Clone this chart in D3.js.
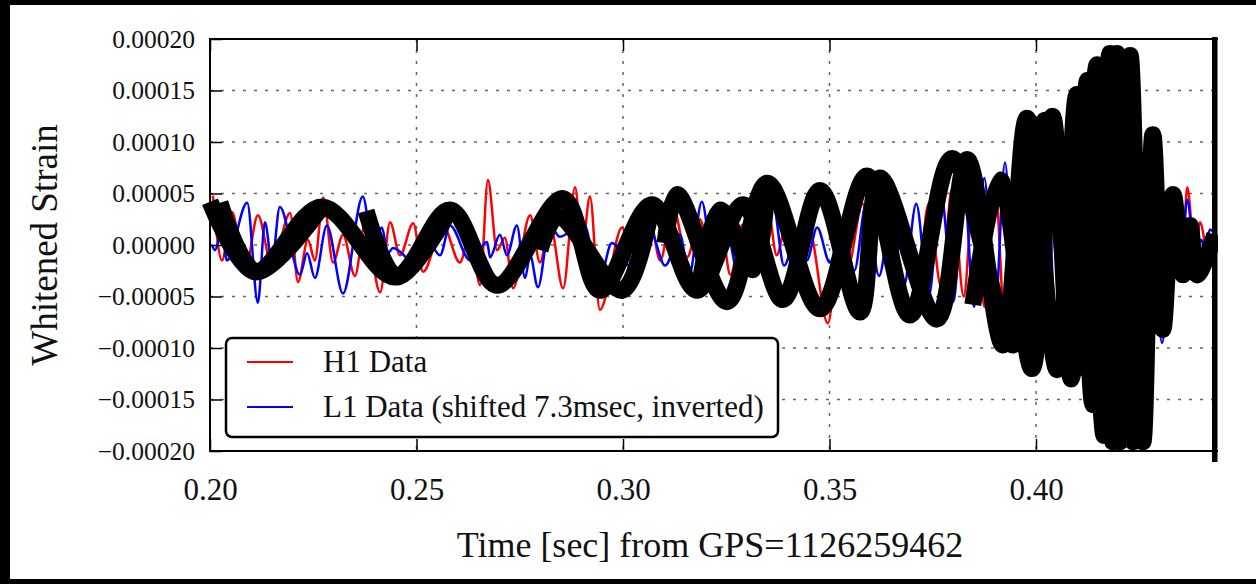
<!DOCTYPE html>
<html>
<head>
<meta charset="utf-8">
<script src="https://cdn.jsdelivr.net/npm/d3@7"></script>
<style>
html, body { margin: 0; padding: 0; background: #000; }
svg { display: block; }
text { font-family: "Liberation Serif", "Times New Roman", serif; fill: #111; }
</style>
</head>
<body>
<div id="chart"></div>
<script>
// strain values below are in units of 1e-5
var unit = 1e-5;

// H1 (red) - [time, strain]
var h1Data = [[0.2007,4.8],[0.2029,-1.5],[0.2053,3.2],[0.2085,-2.5],[0.2116,2.9],[0.2150,-2.0],[0.2194,3.1],[0.2213,-3.6],
  [0.2237,0.5],[0.2254,-1.5],[0.2274,4.6],[0.2298,-1.7],[0.2322,1.0],[0.2351,-3.0],[0.2375,2.0],[0.2412,-4.6],[0.2436,2.2],
  [0.2460,-1.0],[0.2492,2.1],[0.2516,-2.6],[0.2564,1.9],[0.2605,-1.7],[0.2630,1.2],[0.2654,-3.9],[0.2673,6.3],[0.2695,-0.5],
  [0.2714,0.7],[0.2734,-4.2],[0.2775,2.9],[0.2799,-1.7],[0.2823,2.2],[0.2855,-4.2],[0.2884,5.6],[0.2901,-0.3],[0.2920,4.7],
  [0.2944,-6.3],[0.2998,1.7],[0.3022,-2.0],[0.3065,2.5],[0.3090,-1.5],[0.3121,3.7],[0.3155,-1.2],[0.3186,2.5],[0.3215,-1.8],
  [0.3238,1.5],[0.3260,-2.9],[0.3290,2.0],[0.3320,-2.0],[0.3351,3.5],[0.3372,-1.0],[0.3395,2.0],[0.3420,-3.0],[0.3450,1.5],
  [0.3496,-7.6],[0.3525,0.5],[0.3545,-2.0],[0.3580,4.0],[0.3600,1.0],[0.3622,4.5],[0.3650,-4.0],[0.3680,3.0],[0.3710,-5.0],
  [0.3740,4.0],[0.3770,-4.0],[0.3797,5.5],[0.3825,-5.0],[0.3850,6.0],[0.3875,-6.0],[0.3900,6.5],[0.3925,-7.5],[0.3950,8.0],
  [0.3975,-9.0],[0.4000,10.0],[0.4025,-10.0],[0.4050,11.0],[0.4075,-11.0],[0.4100,12.0],[0.4120,-12.0],[0.4140,12.0],
  [0.4160,-12.0],[0.4180,10.0],[0.4200,-10.0],[0.4220,8.0],[0.4240,-8.0],[0.4260,5.0],[0.4280,-4.0],[0.4300,2.0],
  [0.4322,-6.5],[0.4345,1.0],[0.4355,-1.5],[0.4366,5.6],[0.4385,-1.0],[0.4397,2.2],[0.4421,-2.1],[0.4440,1.0]];

// L1 (blue) - [time, strain]
var l1Data = [[0.2005,0.0],[0.2012,-0.5],[0.2029,1.5],[0.2041,-1.5],[0.2090,4.1],[0.2116,-5.6],[0.2133,2.2],[0.2150,-1.7],
  [0.2169,3.7],[0.2218,-2.9],[0.2235,-0.8],[0.2254,-3.2],[0.2283,1.9],[0.2322,-4.7],[0.2370,4.7],[0.2395,-0.3],[0.2416,1.7],
  [0.2431,-0.8],[0.2443,-0.3],[0.2501,-1.9],[0.2533,0.0],[0.2557,-1.0],[0.2581,1.9],[0.2630,-1.5],[0.2671,0.3],[0.2678,-1.2],
  [0.2702,1.0],[0.2719,-1.0],[0.2743,1.9],[0.2763,-3.2],[0.2775,-1.0],[0.2794,-4.1],[0.2823,1.9],[0.2847,0.8],[0.2903,2.2],
  [0.2944,-3.2],[0.2973,0.2],[0.3024,-2.3],[0.3065,1.5],[0.3102,-2.0],[0.3138,1.0],[0.3160,-3.0],[0.3191,4.2],[0.3220,-2.5],
  [0.3250,1.5],[0.3280,-3.0],[0.3310,2.0],[0.3340,-2.5],[0.3363,4.0],[0.3390,-2.0],[0.3420,1.0],[0.3445,-1.5],[0.3470,1.7],
  [0.3501,-1.7],[0.3530,2.0],[0.3560,-2.5],[0.3589,4.1],[0.3620,-3.0],[0.3650,3.0],[0.3680,-4.0],[0.3710,4.0],[0.3740,-5.0],
  [0.3770,5.0],[0.3800,-5.5],[0.3825,6.0],[0.3850,-6.0],[0.3875,6.5],[0.3900,-7.0],[0.3925,8.0],[0.3950,-8.5],[0.3975,9.0],
  [0.4000,-10.0],[0.4025,10.0],[0.4050,-11.0],[0.4075,11.0],[0.4100,-12.0],[0.4120,12.0],[0.4140,-11.0],[0.4160,11.0],
  [0.4180,-10.0],[0.4200,9.0],[0.4220,-8.0],[0.4240,6.0],[0.4260,-5.0],[0.4280,3.0],[0.4305,-9.5],[0.4330,0.0],[0.4350,-2.0],
  [0.4366,4.4],[0.4385,-1.0],[0.4400,0.5],[0.4410,-0.5],[0.4421,1.5],[0.4440,0.5]];

// thick black overlay, several strokes, points in drawing order
var blackMain = [[0.2000,4.2],[0.2109,-2.6],[0.2271,3.7],[0.2448,-3.1],[0.2581,3.4],[0.2695,-3.9],[0.2855,4.5],[0.2944,-4.4],
  [0.3070,3.9],[0.3179,-4.4],[0.3291,3.9],[0.3387,-5.3],[0.3477,5.3],[0.3574,-6.5],[0.3622,6.5],[0.3760,-7.2],[0.3833,8.3],
  [0.3920,-9.7],[0.3978,12.3],[0.4051,-12.1],[0.4099,14.6],[0.4138,-15.5],[0.4179,18.6],[0.4203,-19.1],[0.4228,18.4],
  [0.4259,-19.1],[0.4283,10.7],[0.4307,-8.2],[0.4332,4.9],[0.4356,-2.9],[0.4373,1.9],[0.4390,-2.9],[0.4433,1.0]];
var blackB = [[0.2024,4.1],[0.2112,-2.6],[0.2271,3.7]];
var blackC = [[0.2378,3.3],[0.2453,-3.1],[0.2581,3.4]];
var blackD = [[0.2799,-0.5],[0.2843,2.8],[0.2998,-4.4],[0.3070,3.9]];
var blackE = [[0.3102,0.2],[0.3131,4.9],[0.3252,-5.5],[0.3349,6.0],[0.3477,-6.2],[0.3591,6.7],[0.3695,-6.8],[0.3797,8.4],
  [0.3944,-9.7],[0.4022,12.1],[0.4099,-12.0],[0.4148,17.5],[0.4186,-19.1],[0.4196,18.6],[0.4235,-19.1],[0.4252,-5.3]];
var blackF = [[0.3186,-3.9],[0.3235,3.4],[0.3315,-2.4],[0.3349,6.0]];
var blackG = [[0.3847,-5.8],[0.3913,6.3],[0.3990,-12.0],[0.4040,12.5],[0.4085,-13.0],[0.4125,16.0],[0.4165,-18.5],
  [0.4212,18.0],[0.4245,-19.0],[0.4262,-10.0]];
var blackTraces = [blackMain, blackB, blackC, blackD, blackE, blackF, blackG];

var xTicks = [0.20, 0.25, 0.30, 0.35, 0.40, 0.45];
var xLabelMax = 0.40;   // last tick label that is not cut off
var yTicks = [-0.0002, -0.00015, -0.0001, -0.00005, 0, 0.00005, 0.0001, 0.00015, 0.0002];
var legendLabels = ["H1 Data", "L1 Data (shifted 7.3msec, inverted)"];
var legendColors = ["#ff0000", "#0000ff"];

var W = 1256, H = 584;
var plot = {left: 210, top: 39, right: 1242.5, bottom: 451, edge: 1215};

var svg = d3.select("#chart").append("svg")
    .attr("width", W)
    .attr("height", H);

// page: black frame round a white sheet
svg.append("rect").attr("width", W).attr("height", H).attr("fill", "#000");
svg.append("rect").attr("x", 10).attr("y", 5).attr("width", W - 10).attr("height", 574).attr("fill", "#fff");

var x = d3.scaleLinear().domain([0.2, 0.45]).range([plot.left, plot.right]);
var y = d3.scaleLinear().domain([-0.0002, 0.0002]).range([plot.bottom, plot.top]);

// grid
var grid = svg.append("g").attr("stroke", "#666").attr("stroke-width", 1.5).attr("stroke-dasharray", "3,8");
grid.selectAll(".vg").data(xTicks.slice(1)).enter().append("line")
    .attr("x1", function(d) { return x(d); }).attr("x2", function(d) { return x(d); })
    .attr("y1", plot.top).attr("y2", plot.bottom);
grid.selectAll(".hg").data(yTicks.slice(1, -1)).enter().append("line")
    .attr("x1", plot.left).attr("x2", plot.right)
    .attr("y1", function(d) { return y(d); }).attr("y2", function(d) { return y(d); });

// data lines
var thin = d3.line()
    .x(function(d) { return x(d[0]); })
    .y(function(d) { return y(d[1] * unit); })
    .curve(d3.curveMonotoneX);

svg.append("path").datum(h1Data)
    .attr("fill", "none").attr("stroke", legendColors[0]).attr("stroke-width", 2.5)
    .attr("d", thin);
svg.append("path").datum(l1Data)
    .attr("fill", "none").attr("stroke", legendColors[1]).attr("stroke-width", 2.5)
    .attr("d", thin);

var thick = d3.line()
    .x(function(d) { return x(d[0]); })
    .y(function(d) { return y(d[1] * unit); })
    .curve(d3.curveCatmullRom.alpha(0.5));

svg.selectAll(".black").data(blackTraces).enter().append("path")
    .attr("fill", "none").attr("stroke", "#000").attr("stroke-width", 17)
    .attr("stroke-linecap", "butt").attr("stroke-linejoin", "round")
    .attr("d", thick);

// spines
svg.append("rect")
    .attr("x", plot.left).attr("y", plot.top)
    .attr("width", plot.right - plot.left).attr("height", plot.bottom - plot.top)
    .attr("fill", "none").attr("stroke", "#000").attr("stroke-width", 2);

// axes (ticks inward)
var xAxis = svg.append("g")
    .attr("transform", "translate(0," + plot.bottom + ")")
    .call(d3.axisBottom(x).tickValues(xTicks).tickSize(-12).tickPadding(27)
      .tickFormat(function(d) { return d > xLabelMax + 1e-9 ? "" : d3.format(".2f")(d); }));
xAxis.selectAll("text").style("font-size", "31px").style("font-family", "Liberation Serif");

svg.append("g")
    .attr("transform", "translate(0," + plot.top + ")")
    .call(d3.axisTop(x).tickValues(xTicks).tickSize(-12).tickFormat(""));

var yAxis = svg.append("g")
    .attr("transform", "translate(" + plot.left + ",0)")
    .call(d3.axisLeft(y).tickValues(yTicks).tickSize(-12).tickPadding(15).tickFormat(d3.format(".5f")));
yAxis.selectAll("text").style("font-size", "25.5px").style("font-family", "Liberation Serif");

svg.selectAll(".domain").remove();
svg.selectAll(".tick line").attr("stroke", "#000").attr("stroke-width", 1.5);

// legend
var legend = svg.append("g");
legend.append("rect")
    .attr("x", 226).attr("y", 338).attr("width", 552).attr("height", 99).attr("rx", 6)
    .attr("fill", "#fff").attr("stroke", "#000").attr("stroke-width", 2.5);
legendLabels.forEach(function(label, i) {
  var ly = 362 + i * 45;
  legend.append("line")
      .attr("x1", 247).attr("x2", 293).attr("y1", ly).attr("y2", ly)
      .attr("stroke", legendColors[i]).attr("stroke-width", 2.2);
  legend.append("text")
      .attr("x", 323).attr("y", ly + 10)
      .style("font-size", "31px")
      .text(label);
});

// axis labels
svg.append("text")
    .attr("x", 710).attr("y", 557)
    .attr("text-anchor", "middle")
    .style("font-size", "36px")
    .text("Time [sec] from GPS=1126259462");

svg.append("text")
    .attr("transform", "translate(57,245) rotate(-90)")
    .attr("text-anchor", "middle")
    .style("font-size", "37px")
    .text("Whitened Strain");

// the picture is cut off just past 0.44
svg.append("rect").attr("x", plot.edge + 3).attr("y", 5).attr("width", W - plot.edge - 3).attr("height", 574).attr("fill", "#fff");
svg.append("rect").attr("x", plot.edge - 3).attr("y", plot.top - 2).attr("width", 5.5).attr("height", 462 - plot.top + 2).attr("fill", "#000");
</script>
</body>
</html>
